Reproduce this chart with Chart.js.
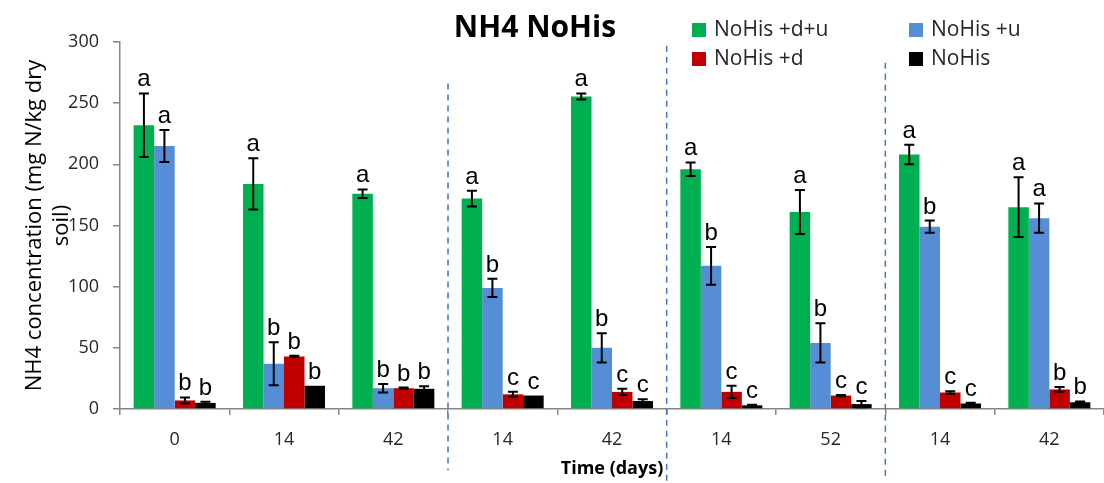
<!DOCTYPE html>
<html>
<head>
<meta charset="utf-8">
<title>NH4 NoHis</title>
<script src="https://cdn.jsdelivr.net/npm/chart.js"></script>
<style>
  html, body { margin: 0; padding: 0; background: #ffffff; }
  #wrap { width: 1104px; height: 483px; }
</style>
</head>
<body>
<div id="wrap"><canvas id="chart" width="1104" height="483"></canvas></div>
<script>
// Sampling days for each treatment block
const categories = ['0', '14', '42', '14', '42', '14', '52', '14', '42'];

// NH4 concentration (mg N/kg dry soil), mean and error per treatment
const noHisDU    = [232, 184, 176, 172, 255.5, 196, 161, 208, 165];
const noHisDUErr = [26, 21, 3.5, 6.5, 2.5, 5.5, 18, 8, 24.5];
const noHisU     = [215, 37, 17, 99, 50, 117, 54, 149, 156];
const noHisUErr  = [13, 17.5, 3.5, 7.5, 12, 15.5, 16, 5, 12];
const noHisD     = [7, 43, 17, 12, 14, 14, 11, 13.5, 16];
const noHisDErr  = [2.5, 0.5, 0.5, 2, 2.5, 5, 0.5, 1, 2];
const noHis      = [5, 19, 16.5, 11, 6.5, 3, 4, 4.5, 5.5];
const noHisErr   = [1, 0, 2, 0, 1.5, 0.5, 2.5, 0.7, 0.7];

// Significance letters
const noHisDULetters = ['a', 'a', 'a', 'a', 'a', 'a', 'a', 'a', 'a'];
const noHisULetters  = ['a', 'b', 'b', 'b', 'b', 'b', 'b', 'b', 'a'];
const noHisDLetters  = ['b', 'b', 'b', 'c', 'c', 'c', 'c', 'c', 'b'];
const noHisLetters   = ['b', 'b', 'b', 'c', 'c', 'c', 'c', 'c', 'b'];

// Y axis ticks
const yTicks = [0, 50, 100, 150, 200, 250, 300];

// Block separators: index of the category they follow, and their top/bottom in axis units
const separatorAfter  = [2, 4, 6];
const separatorTop    = [266, 297, 283];
const separatorBottom = [-50, -59, -56];

const seriesNames = ['NoHis +d+u', 'NoHis +u', 'NoHis +d', 'NoHis'];
const seriesColors = ['#00B050', '#558ED5', '#C00000', '#000000'];
const seriesValues = [noHisDU, noHisU, noHisD, noHis];
const seriesErrors = [noHisDUErr, noHisUErr, noHisDErr, noHisErr];
const seriesLetters = [noHisDULetters, noHisULetters, noHisDLetters, noHisLetters];

const datasets = seriesNames.map((name, i) => ({
  label: name,
  data: seriesValues[i],
  errors: seriesErrors[i],
  letters: seriesLetters[i],
  backgroundColor: seriesColors[i],
  borderWidth: 0,
  categoryPercentage: 0.75,
  barPercentage: 1.0
}));

// Error bars and letters above every bar
const errorBarPlugin = {
  id: 'errorBars',
  afterDatasetsDraw(chart) {
    const ctx = chart.ctx;
    const y = chart.scales.y;
    ctx.save();
    chart.data.datasets.forEach((ds, di) => {
      const meta = chart.getDatasetMeta(di);
      meta.data.forEach((bar, j) => {
        const v = ds.data[j];
        const e = ds.errors[j] || 0;
        const yTop = y.getPixelForValue(v + e);
        const yBot = y.getPixelForValue(Math.max(0, v - e));
        if (e > 0) {
          ctx.strokeStyle = '#000000';
          ctx.lineWidth = 2;
          ctx.beginPath();
          ctx.moveTo(bar.x, yTop);
          ctx.lineTo(bar.x, yBot);
          ctx.moveTo(bar.x - 5, yTop);
          ctx.lineTo(bar.x + 5, yTop);
          ctx.moveTo(bar.x - 5, yBot);
          ctx.lineTo(bar.x + 5, yBot);
          ctx.stroke();
        }
        ctx.fillStyle = '#000000';
        ctx.font = '24px "Liberation Sans", Arial, sans-serif';
        ctx.textAlign = 'center';
        ctx.textBaseline = 'alphabetic';
        ctx.fillText(ds.letters[j], bar.x, yTop - 7);
      });
    });
    ctx.restore();
  }
};

// Dashed separators between treatment blocks, title and legend
const decorPlugin = {
  id: 'decor',
  afterDraw(chart) {
    const ctx = chart.ctx;
    const x = chart.scales.x;
    const y = chart.scales.y;
    ctx.save();
    ctx.strokeStyle = '#4472C4';
    ctx.lineWidth = 1.5;
    ctx.setLineDash([6, 5]);
    separatorAfter.forEach((idx, k) => {
      const px = (x.getPixelForValue(idx) + x.getPixelForValue(idx + 1)) / 2;
      ctx.beginPath();
      ctx.moveTo(px, y.getPixelForValue(separatorTop[k]));
      ctx.lineTo(px, y.getPixelForValue(separatorBottom[k]));
      ctx.stroke();
    });
    ctx.setLineDash([]);

    // Title
    ctx.fillStyle = '#000000';
    ctx.font = 'bold 30px "Open Sans", sans-serif';
    ctx.textAlign = 'center';
    ctx.textBaseline = 'alphabetic';
    ctx.fillText('NH4 NoHis', 535, 37);

    // Legend, two columns by two rows
    const colX = [692, 909];
    const rowY = [30, 59];
    ctx.font = '21px "Open Sans", sans-serif';
    ctx.textAlign = 'left';
    ctx.textBaseline = 'middle';
    seriesNames.forEach((name, i) => {
      const cx = colX[i % 2];
      const cy = rowY[Math.floor(i / 2)];
      ctx.fillStyle = seriesColors[i];
      ctx.fillRect(cx, cy - 7, 14, 14);
      ctx.fillStyle = '#262626';
      ctx.fillText(name, cx + 22, cy);
    });
    ctx.restore();
  }
};

new Chart(document.getElementById('chart'), {
  type: 'bar',
  data: { labels: categories, datasets },
  plugins: [errorBarPlugin, decorPlugin],
  options: {
    responsive: false,
    devicePixelRatio: 1,
    animation: false,
    layout: { padding: { top: 42, left: 0, right: -2, bottom: 0 } },
    plugins: {
      legend: { display: false },
      title: { display: false },
      tooltip: { enabled: false }
    },
    scales: {
      x: {
        afterFit(scale) { scale.height = 74; },
        grid: {
          display: true,
          offset: true,
          drawOnChartArea: false,
          drawTicks: true,
          tickLength: 6,
          color: '#868686',
          lineWidth: 1.5
        },
        border: { display: true, color: '#868686', width: 1.5 },
        ticks: {
          color: '#262626',
          font: { family: 'Open Sans', size: 18 },
          padding: 14,
          maxRotation: 0,
          autoSkip: false
        },
        title: {
          display: true,
          text: 'Time (days)',
          color: '#000000',
          font: { family: 'Open Sans', size: 18, weight: 'bold' },
          padding: { top: 0, bottom: 3 }
        }
      },
      y: {
        min: 0,
        max: 300,
        afterFit(scale) { scale.width = 120; },
        afterBuildTicks(scale) { scale.ticks = yTicks.map(v => ({ value: v })); },
        grid: {
          display: true,
          drawOnChartArea: false,
          drawTicks: true,
          tickLength: 7,
          color: '#868686',
          lineWidth: 1.5
        },
        border: { display: true, color: '#868686', width: 1.5 },
        ticks: {
          color: '#262626',
          font: { family: 'Open Sans', size: 18 },
          padding: 14
        },
        title: {
          display: true,
          text: ['NH4 concentration (mg N/kg dry', 'soil)'],
          color: '#000000',
          font: { family: 'Open Sans', size: 22, lineHeight: 1.2 },
          padding: { top: 22, bottom: 0 }
        }
      }
    }
  }
});
</script>
</body>
</html>
